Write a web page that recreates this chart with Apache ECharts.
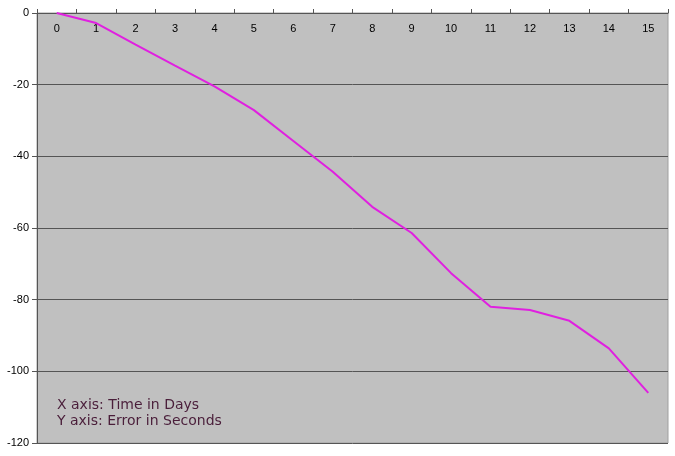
<!DOCTYPE html>
<html>
<head>
<meta charset="utf-8">
<script src="https://cdn.jsdelivr.net/npm/echarts@6/dist/echarts.min.js"></script>
<style>html,body{margin:0;padding:0;background:#fff}#c{width:675px;height:456px}</style>
</head>
<body>
<div id="c"></div>
<script>
const days = ['0','1','2','3','4','5','6','7','8','9','10','11','12','13','14','15'];
const errorSeconds = [0, -2.8, -8.8, -14.7, -20.5, -27.1, -35.7, -44.3, -54.1, -61.4, -72.6, -82, -82.9, -85.9, -93.6, -106];
const yTicks = { min: -120, max: 0, interval: 20 };
const noteLines = ['X axis: Time in Days', 'Y axis: Error in Seconds'];

const chart = echarts.init(document.getElementById('c'), null, {renderer: 'canvas'});
chart.setOption({
  animation: false,
  backgroundColor: '#ffffff',
  grid: {
    left: 37, top: 13, right: 7, bottom: 13,
    show: true, backgroundColor: '#C0C0C0', borderColor: '#A0A0A0', borderWidth: 1
  },
  xAxis: {
    type: 'category',
    data: days,
    position: 'top',
    boundaryGap: true,
    axisLine: { show: true, lineStyle: { color: '#555555', width: 1 } },
    axisTick: { show: true, inside: false, length: 4, lineStyle: { color: '#555555' } },
    axisLabel: { inside: true, margin: 10, color: '#000', fontFamily: 'Liberation Sans, Arial', fontSize: 11 },
    splitLine: { show: false }
  },
  yAxis: {
    type: 'value',
    min: yTicks.min, max: yTicks.max, interval: yTicks.interval,
    axisLine: { show: true, lineStyle: { color: '#555555', width: 1 } },
    axisTick: { show: true, inside: false, length: 5, lineStyle: { color: '#555555' } },
    axisLabel: { color: '#000', fontFamily: 'Liberation Sans, Arial', fontSize: 11, margin: 8 },
    splitLine: { show: true, lineStyle: { color: '#555555', width: 1 } }
  },
  graphic: [{
    type: 'text',
    left: 57, top: 397,
    style: {
      text: noteLines.join('\n'),
      fill: '#4A1E3A',
      font: '14px "DejaVu Sans", Verdana',
      lineHeight: 16
    }
  }],
  series: [{
    type: 'line',
    data: errorSeconds,
    symbol: 'none',
    lineStyle: { color: '#E020E0', width: 2 },
    itemStyle: { color: '#E020E0' }
  }]
});
</script>
</body>
</html>
